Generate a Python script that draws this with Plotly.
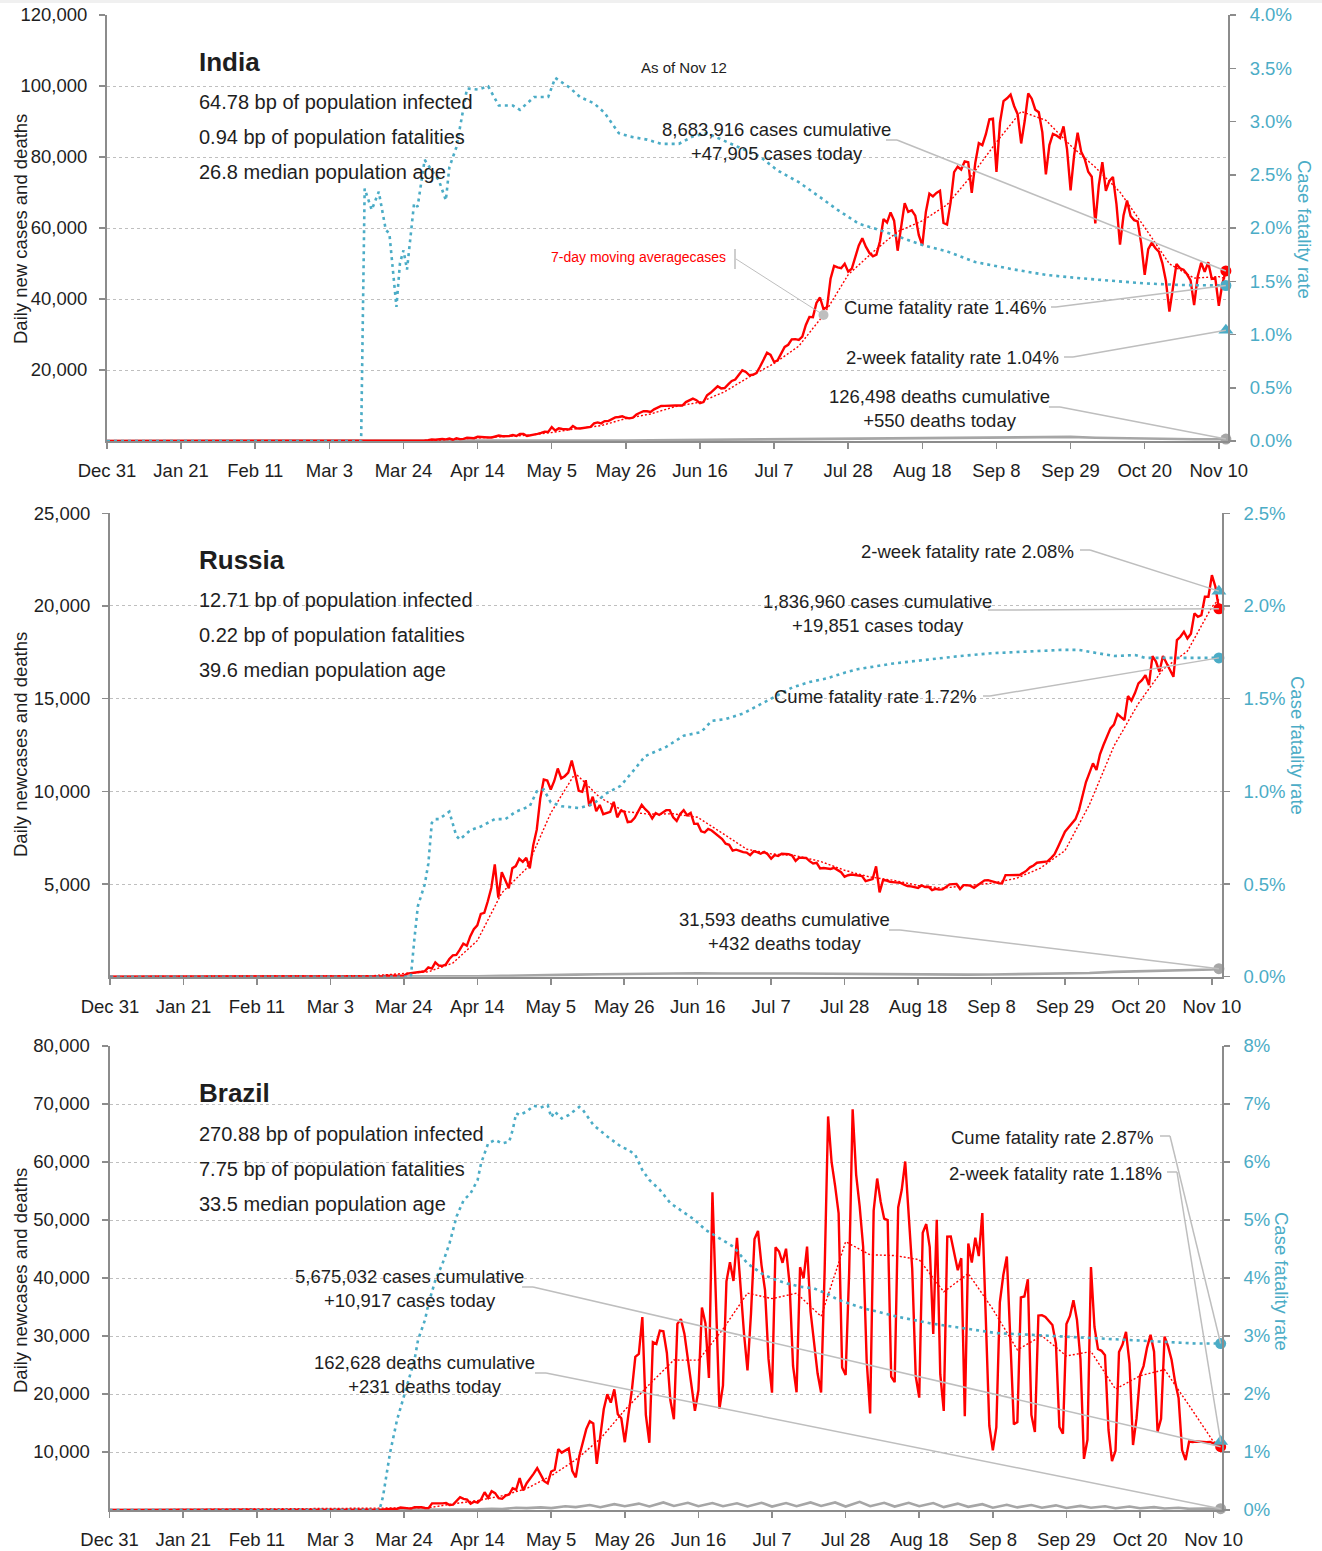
import pandas as pd
import plotly.graph_objects as go

# ============================ DATA ============================
base_date = pd.Timestamp("2019-12-31")
daily_start = pd.Timestamp("2020-03-01")
lead_value = 0

tick_dates = ["2019-12-31", "2020-01-21", "2020-02-11", "2020-03-03", "2020-03-24",
              "2020-04-14", "2020-05-05", "2020-05-26", "2020-06-16", "2020-07-07",
              "2020-07-28", "2020-08-18", "2020-09-08", "2020-09-29", "2020-10-20",
              "2020-11-10"]
tick_labels = ["Dec 31", "Jan 21", "Feb 11", "Mar 3", "Mar 24", "Apr 14", "May 5",
               "May 26", "Jun 16", "Jul 7", "Jul 28", "Aug 18", "Sep 8", "Sep 29",
               "Oct 20", "Nov 10"]

# ---- India ----
india_cases = [
    # Mar
    0, 0, 1, 22, 2, 1, 3, 5, 9, 15, 6, 11, 9, 20, 11, 16, 23, 22, 26, 58, 83, 69, 103, 37, 121, 70, 160, 100, 67, 146, 227,
    # Apr
    437, 336, 525, 601, 472, 693, 354, 773, 540, 591, 896, 909, 796, 1211, 1076, 941, 1007, 991, 1334, 1553, 1336, 1383, 1409, 1684, 1429, 1990, 1975, 1396, 1543, 1718,
    # May
    1993, 2293, 2644, 2553, 3900, 2958, 3561, 3390, 3320, 3277, 4213, 3604, 3525, 3722, 3967, 3970, 4987, 5242, 4970, 5611, 5609, 6088, 6654, 6767, 6977, 6535, 6387, 6566, 7466, 7964, 8380,
    # Jun
    8392, 8171, 8909, 9304, 9851, 9887, 9971, 9983, 9987, 9985, 9996, 10956, 11458, 11929, 11502, 10667, 10974, 12881, 13586, 14516, 15413, 14821, 14933, 15968, 16922, 17296, 18552, 19906, 19459, 18522,
    # Jul
    18653, 19148, 20903, 22771, 24850, 24248, 22252, 22752, 24879, 26506, 27114, 28637, 28701, 28498, 29429, 32695, 34956, 34884, 38902, 40425, 37148, 37724, 45720, 49310, 48916, 48661, 49931, 47704, 48513, 52123, 55079,
    # Aug
    57118, 54735, 52972, 52050, 52509, 56282, 62538, 61537, 64399, 62064, 53601, 60963, 66999, 64553, 65002, 63490, 57981, 55079, 64531, 69652, 68898, 69878, 70488, 61408, 60975, 67151, 75760, 77266, 76472, 78761, 78512,
    # Sep
    69921, 78357, 83883, 83341, 86432, 90632, 90802, 75809, 89706, 95735, 96551, 97570, 94372, 92071, 83809, 90123, 97894, 96424, 93337, 92605, 86961, 75083, 83347, 86508, 86052, 85362, 88600, 82170, 70589, 80472,
    # Oct
    86821, 81484, 79476, 75829, 74442, 61267, 72049, 78524, 70496, 73272, 74383, 66732, 55342, 63509, 67708, 63371, 62212, 61871, 55722, 46790, 54044, 55839, 54366, 53370, 50129, 45148, 36469, 43893, 49881, 48648, 48268,
    # Nov
    46963, 45231, 38310, 46253, 50209, 47638, 50357, 45674, 45903, 38074, 44281, 47905,
]
india_ma_days = [0, 75, 91, 98, 105, 112, 119, 126, 133, 140, 147, 154, 161, 168, 175, 182, 189, 196,
                 203, 210, 217, 224, 231, 238, 245, 252, 259, 266, 273, 280, 287, 294, 301, 308, 315, 317]
india_ma = [0, 10, 90, 488, 817, 1177, 1609, 2378, 3482, 4340, 6320, 7618, 9699, 10928, 13875, 18089,
            21832, 26727, 35491, 46852, 53227, 58990, 62010, 66547, 74835, 84179, 92831, 90347, 83233,
            77113, 70114, 60169, 49909, 45885, 46301, 45690]
india_death_days = india_ma_days
india_deaths = [0, 0, 10, 20, 30, 45, 55, 100, 90, 130, 150, 220, 280, 380, 420, 420, 470, 550, 650, 700,
                800, 900, 1000, 950, 1050, 1100, 1150, 1100, 1150, 900, 750, 600, 500, 500, 500, 550]
india_cfr_days = [0, 72, 73, 75, 77, 79, 80, 82, 83, 84, 85, 87, 88, 90, 92, 94, 96, 97, 99, 101,
                  102, 105, 108, 111, 115, 117, 121, 125, 127, 131, 134, 138, 141, 145, 148, 153, 157, 162, 166, 170,
                  174, 179, 185, 190, 196, 202, 207, 213, 219, 225, 231, 238, 246, 257, 266, 275, 285, 294, 304, 317]
india_cfr = [0, 0, 2.37, 2.17, 2.34, 1.98, 1.95, 1.26, 1.67, 1.79, 1.61, 2.23, 2.20, 2.64, 2.54, 2.45, 2.26, 2.57, 2.76, 3.11,
             3.31, 3.30, 3.33, 3.15, 3.15, 3.11, 3.23, 3.23, 3.41, 3.32, 3.23, 3.17, 3.08, 2.89, 2.86, 2.83, 2.79, 2.79, 2.86, 2.89,
             2.83, 2.76, 2.67, 2.54, 2.43, 2.29, 2.17, 2.04, 1.98, 1.91, 1.84, 1.78, 1.68, 1.61, 1.56, 1.53, 1.50, 1.48, 1.465, 1.46]
india_cfr_2wk = 1.04
india_cum_cases, india_today_cases = 8683916, 47905
india_cum_deaths, india_today_deaths = 126498, 550
india_stats = ["64.78 bp of population infected", "0.94 bp of population fatalities", "26.8 median population age"]
india_left_ticks = [20000, 40000, 60000, 80000, 100000, 120000]
india_right_ticks = [0, 0.5, 1.0, 1.5, 2.0, 2.5, 3.0, 3.5, 4.0]
india_ma_label_day = 203

# ---- Russia ----
russia_cases = [
    # Mar
    0, 0, 1, 0, 1, 0, 4, 3, 2, 0, 8, 6, 14, 11, 18, 30, 21, 33, 52, 54, 53, 61, 71, 57, 163, 182, 196, 228, 270, 302, 500,
    # Apr
    440, 771, 601, 582, 658, 954, 1154, 1175, 1459, 1786, 1667, 2186, 2558, 2774, 3388, 3448, 4070, 4785, 6060, 4268, 5642, 5236, 4774, 5849, 5966, 6361, 6198, 6411, 5841, 7099,
    # May
    7933, 9623, 10633, 10581, 10102, 10559, 11231, 10699, 10817, 11012, 11656, 10899, 10028, 9974, 10598, 9200, 9709, 8926, 9263, 8764, 8849, 8894, 9434, 8599, 8946, 8915, 8338, 8371, 8572, 8952, 9268,
    # Jun
    9035, 8863, 8536, 8831, 8726, 8855, 8984, 8985, 8595, 8404, 8779, 8987, 8706, 8835, 8246, 8248, 7843, 7790, 7972, 7889, 7728, 7600, 7425, 7176, 7113, 6800, 6852, 6791, 6719, 6693,
    # Jul
    6556, 6760, 6718, 6632, 6736, 6611, 6368, 6562, 6509, 6635, 6611, 6615, 6537, 6248, 6422, 6428, 6406, 6234, 6109, 6139, 5842, 5862, 5848, 5811, 5871, 5765, 5635, 5395, 5475, 5509, 5482,
    # Aug
    5462, 5427, 5159, 5204, 5267, 5950, 4550, 5212, 5189, 5118, 5102, 5065, 5061, 4969, 4892, 4870, 4828, 4785, 4921, 4838, 4852, 4676, 4744, 4696, 4711, 4829, 4980, 4993, 5004, 4729, 4941,
    # Sep
    4940, 4900, 4800, 4950, 5100, 5200, 5210, 5150, 5100, 5050, 5030, 5480, 5480, 5470, 5480, 5490, 5600, 5720, 5900, 6000, 6150, 6170, 6190, 6220, 6400, 6600, 7000, 7400, 7820, 8050,
    # Oct
    8270, 8500, 8990, 9700, 10500, 11000, 11510, 11150, 12000, 12500, 12950, 13400, 13600, 14170, 14000, 13850, 15140, 14890, 15300, 15820, 16000, 16270, 15730, 17300, 17000, 16450, 17300, 16900, 16500, 16180, 18160,
    # Nov
    18340, 18610, 18250, 18500, 19600, 19420, 19500, 20500, 20500, 21660, 21040, 19851,
]
russia_ma_days = india_ma_days
russia_ma = [0, 54, 263, 737, 1944, 4523, 5828, 8830, 10982, 9671, 8914, 8771, 8787, 8601, 7750, 6878, 6626,
             6531, 6226, 5741, 5388, 5198, 4924, 4777, 4917, 5044, 5299, 5861, 6804, 9287, 12444, 14739,
             16579, 17563, 19954, 20353]
russia_death_days = india_ma_days
russia_deaths = [0, 0, 2, 10, 25, 45, 80, 100, 110, 130, 150, 180, 170, 190, 170, 150, 170, 170, 160, 140,
                 120, 120, 115, 110, 110, 120, 130, 150, 170, 200, 260, 290, 320, 360, 390, 432]
russia_cfr_days = [0, 86, 87, 88, 90, 91, 92, 93, 94, 97, 99, 100, 103, 106, 110, 113, 116, 120, 122, 124,
                   126, 129, 134, 138, 142, 146, 150, 153, 159, 164, 169, 172, 176, 181, 186, 191, 195, 200, 205, 210,
                   214, 224, 233, 243, 252, 262, 272, 277, 281, 287, 293, 296, 305, 317]
russia_cfr = [0, 0, 0.20, 0.38, 0.50, 0.61, 0.83, 0.85, 0.85, 0.89, 0.76, 0.74, 0.79, 0.81, 0.85, 0.85, 0.89, 0.92, 1.00, 1.01,
              0.94, 0.92, 0.91, 0.93, 0.99, 1.03, 1.12, 1.19, 1.24, 1.30, 1.32, 1.38, 1.39, 1.42, 1.47, 1.52, 1.56, 1.59, 1.61, 1.64,
              1.66, 1.69, 1.71, 1.73, 1.745, 1.754, 1.763, 1.763, 1.75, 1.73, 1.735, 1.72, 1.72, 1.72]
russia_cfr_2wk = 2.08
russia_cum_cases, russia_today_cases = 1836960, 19851
russia_cum_deaths, russia_today_deaths = 31593, 432
russia_stats = ["12.71 bp of population infected", "0.22 bp of population fatalities", "39.6 median population age"]
russia_left_ticks = [5000, 10000, 15000, 20000, 25000]
russia_right_ticks = [0, 0.5, 1.0, 1.5, 2.0, 2.5]

# ---- Brazil ----
brazil_cases = [
    # Mar
    0, 1, 0, 0, 1, 4, 6, 6, 5, 5, 9, 0, 25, 21, 77, 79, 34, 57, 137, 193, 283, 224, 418, 345, 310, 232, 482, 502, 487, 352, 323,
    # Apr
    1138, 1119, 1074, 1146, 1222, 852, 926, 1661, 2210, 1930, 1781, 1089, 1442, 1261, 1832, 3058, 2105, 3257, 2917, 2055, 1927, 2498, 2678, 3735, 3503, 5514, 3379, 4613, 5385, 6276,
    # May
    7218, 6209, 4970, 4588, 6633, 6935, 10503, 9888, 10222, 10611, 6760, 5632, 9258, 11385, 13944, 15305, 14919, 7938, 13140, 17408, 19951, 18508, 20803, 16508, 15813, 11687, 16324, 20599, 26417, 26928, 33274,
    # Jun
    16409, 11598, 28936, 28633, 30925, 30830, 27075, 18912, 15654, 32091, 32913, 30412, 25982, 21704, 17110, 20647, 34918, 32188, 22765, 54771, 34666, 17459, 21432, 39436, 42725, 39483, 46907, 38693, 30476, 24052,
    # Jul
    33846, 46712, 48105, 42223, 37923, 26051, 20229, 45305, 44571, 42619, 45048, 39023, 24831, 20286, 41857, 39924, 45403, 34177, 28532, 23529, 20257, 41008, 67860, 59961, 55891, 51147, 24578, 23284, 40816, 69074, 57837,
    # Aug
    52383, 45392, 25800, 16641, 51603, 57152, 53139, 50230, 49970, 23010, 22048, 52160, 55155, 60091, 50644, 41576, 23101, 19373, 47784, 49298, 45323, 30355, 50032, 23421, 17078, 47134, 47161, 44235, 41350, 43412, 16158,
    # Sep
    45961, 42659, 46934, 43773, 51194, 33000, 14521, 10273, 14279, 35816, 40557, 43718, 29000, 14768, 15155, 36653, 36820, 39797, 16389, 13439, 33536, 33600, 33300, 32500, 31900, 28700, 14318, 13155, 32058, 33461,
    # Oct
    36157, 32800, 26012, 8820, 12100, 41906, 31553, 27750, 27444, 26700, 13800, 8429, 10220, 27235, 28523, 30700, 25300, 11200, 15783, 23227, 24818, 28000, 30200, 27300, 13493, 15726, 29900, 28200, 25900, 22100, 19300,
    # Nov
    10300, 8600, 11800, 11700, 11800, 11750, 11800, 11700, 11750, 11500, 11300, 10917,
]
brazil_ma_days = india_ma_days
brazil_ma = [0, 237, 384, 1068, 1625, 2450, 3703, 5897, 8650, 12270, 17240, 21650, 25852, 25837, 31171,
             37396, 36441, 37383, 33383, 46247, 43992, 43879, 43157, 37613, 40773, 34622, 27613, 30033,
             26562, 27322, 20842, 23138, 24205, 18029, 11721, 11538]
brazil_death_days = [0, 80, 90, 95, 98, 102, 105, 109, 112, 116, 119, 123, 126, 130, 133, 137, 140, 144, 147, 151,
                     154, 158, 161, 165, 168, 172, 175, 179, 182, 186, 189, 193, 196, 200, 203, 207, 210, 214, 217, 221,
                     224, 228, 231, 235, 238, 242, 245, 249, 252, 256, 259, 263, 266, 270, 273, 277, 280, 284, 287, 291,
                     294, 298, 301, 305, 308, 312, 317]
brazil_deaths = [0, 1, 40, 70, 100, 130, 110, 200, 150, 400, 330, 450, 330, 650, 500, 850, 480, 1000, 650, 1100,
                 600, 1300, 700, 1250, 650, 1200, 650, 1150, 600, 1250, 600, 1200, 650, 1300, 700, 1300, 600, 1400, 650, 1250,
                 600, 1250, 650, 1200, 500, 1100, 550, 1000, 400, 900, 450, 850, 400, 800, 350, 700, 400, 650, 300, 600,
                 300, 500, 250, 400, 200, 250, 231]
brazil_cfr_days = [0, 77, 78, 80, 82, 85, 87, 88, 90, 91, 93, 95, 97, 99, 101, 103, 105, 106, 107, 108,
                   110, 112, 114, 115, 116, 117, 119, 121, 123, 125, 126, 127, 129, 131, 134, 135, 138, 142, 146, 148,
                   150, 152, 154, 157, 160, 163, 167, 170, 174, 178, 182, 186, 189, 193, 197, 201, 205, 208, 215, 225,
                   234, 244, 253, 263, 272, 282, 291, 301, 310, 317]
brazil_cfr = [0, 0, 0.23, 0.98, 1.55, 2.18, 2.59, 2.93, 3.28, 3.56, 3.97, 4.25, 4.60, 5.06, 5.34, 5.46, 5.69, 5.98, 6.15, 6.32,
              6.38, 6.32, 6.35, 6.55, 6.84, 6.81, 6.87, 6.97, 6.94, 6.98, 6.77, 6.87, 6.75, 6.81, 6.95, 6.90, 6.64, 6.44, 6.26, 6.21,
              6.12, 5.86, 5.69, 5.52, 5.29, 5.17, 5.00, 4.83, 4.68, 4.54, 4.25, 4.08, 3.99, 3.91, 3.85, 3.82, 3.72, 3.62, 3.48, 3.33,
              3.22, 3.13, 3.05, 3.02, 2.99, 2.96, 2.93, 2.90, 2.87, 2.87]
brazil_cfr_2wk = 1.18
brazil_cum_cases, brazil_today_cases = 5675032, 10917
brazil_cum_deaths, brazil_today_deaths = 162628, 231
brazil_stats = ["270.88 bp of population infected", "7.75 bp of population fatalities", "33.5 median population age"]
brazil_left_ticks = [10000, 20000, 30000, 40000, 50000, 60000, 70000, 80000]
brazil_right_ticks = [0, 1, 2, 3, 4, 5, 6, 7, 8]

# ============================ STYLE / LAYOUT ============================
W, H, OFF = 1322, 1551, 0
FONT = "Liberation Sans Narrow, Arial Narrow, Liberation Sans, Arial, sans-serif"
RED, CYAN, GRAY = "#FF0000", "#4BACC6", "#A6A6A6"
AXIS, GRID, LEAD, TXT = "#8C8C8C", "#BFBFBF", "#BEBEBE", "#1E1E1E"
S_TICK, S_STAT, S_TITLE, S_NOTE, S_AXT = 18.5, 20, 26, 18.5, 18.5


def fx(p):
    return (p - OFF) / W


def fy(p):
    return 1 - (p - OFF) / H


def day(d):
    return base_date + pd.Timedelta(days=d)


countries = [
    dict(name="India", cases=india_cases, ma_days=india_ma_days, ma=india_ma,
         death_days=india_death_days, deaths=india_deaths, cfr_days=india_cfr_days, cfr=india_cfr,
         cfr2=india_cfr_2wk, cum_c=india_cum_cases, tod_c=india_today_cases,
         cum_d=india_cum_deaths, tod_d=india_today_deaths, stats=india_stats,
         lt=india_left_ticks, rt=india_right_ticks, rfmt="{:.1f}%", lmax=120000, rmax=4,
         ytitle="Daily new cases and deaths",
         fr=dict(left=107, right=1228, top=15, bottom=441, end=317.6),
         title_y=62, stats_y=[102, 137, 172], ltitle_y=229, rtitle_x=1305,
         cases_txt=(776, 142), deaths_txt=(940, 409),
         cume_txt=(1049, 307), wk_txt=(1061, 357),
         cases_lead=(886, 897, 140), deaths_lead=(1049, 1060, 407),
         cume_lead=(1051, 1056, 307), wk_lead=(1064, 1073, 357)),
    dict(name="Russia", cases=russia_cases, ma_days=russia_ma_days, ma=russia_ma,
         death_days=russia_death_days, deaths=russia_deaths, cfr_days=russia_cfr_days, cfr=russia_cfr,
         cfr2=russia_cfr_2wk, cum_c=russia_cum_cases, tod_c=russia_today_cases,
         cum_d=russia_cum_deaths, tod_d=russia_today_deaths, stats=russia_stats,
         lt=russia_left_ticks, rt=russia_right_ticks, rfmt="{:.1f}%", lmax=25000, rmax=2.5,
         ytitle="Daily newcases and deaths",
         fr=dict(left=110, right=1221.7, top=513.3, bottom=976.7, end=317.8),
         title_y=560, stats_y=[600, 635, 670], ltitle_y=745, rtitle_x=1298,
         cases_txt=(877, 613), deaths_txt=(784, 931),
         cume_txt=(979, 696), wk_txt=(1076, 551),
         cases_lead=(988, 998, 610), deaths_lead=(889, 900, 930),
         cume_lead=(983, 990, 696), wk_lead=(1080, 1090, 550)),
    dict(name="Brazil", cases=brazil_cases, ma_days=brazil_ma_days, ma=brazil_ma,
         death_days=brazil_death_days, deaths=brazil_deaths, cfr_days=brazil_cfr_days, cfr=brazil_cfr,
         cfr2=brazil_cfr_2wk, cum_c=brazil_cum_cases, tod_c=brazil_today_cases,
         cum_d=brazil_cum_deaths, tod_d=brazil_today_deaths, stats=brazil_stats,
         lt=brazil_left_ticks, rt=brazil_right_ticks, rfmt="{:.0f}%", lmax=80000, rmax=8,
         ytitle="Daily newcases and deaths",
         fr=dict(left=109.6, right=1221.7, top=1046, bottom=1510, end=317.3),
         title_y=1093, stats_y=[1134, 1169, 1204], ltitle_y=1281, rtitle_x=1282,
         cases_txt=(409, 1288), deaths_txt=(425, 1374),
         cume_txt=(1156, 1137), wk_txt=(1164, 1173),
         cases_lead=(522, 533, 1287), deaths_lead=(535, 546, 1373),
         cume_lead=(1160, 1170, 1136), wk_lead=(1167, 1177, 1172)),
]

fig = go.Figure()
layout = dict(width=W, height=H, margin=dict(l=0, r=0, t=0, b=0, autoexpand=False), autosize=False,
              paper_bgcolor="white", plot_bgcolor="white", showlegend=False, hovermode=False,
              font=dict(family=FONT, color=TXT))
annotations = []
shapes = [dict(type="rect", xref="paper", yref="paper", x0=0, x1=1, y0=fy(3), y1=1,
               fillcolor="#F0F0F0", line=dict(width=0), layer="below")]


def ann(text, xp, yp, size, xanchor="left", yanchor="middle", color=TXT, angle=0, bold=False):
    annotations.append(dict(text=("<b>%s</b>" % text) if bold else text, x=fx(xp), y=fy(yp),
                            xref="paper", yref="paper", xanchor=xanchor, yanchor=yanchor,
                            showarrow=False, textangle=angle, align="center",
                            font=dict(family=FONT, size=size, color=color)))


def stub(x0, x1, y):
    shapes.append(dict(type="line", xref="paper", yref="paper", x0=fx(x0), x1=fx(x1),
                       y0=fy(y), y1=fy(y), line=dict(color=LEAD, width=1.5)))


for i, c in enumerate(countries):
    fr = c["fr"]
    xr = "x" if i == 0 else "x%d" % (i + 1)
    yl = "y" if i == 0 else "y%d" % (2 * i + 1)
    yr = "y%d" % (2 * i + 2)
    xk = "xaxis" if i == 0 else "xaxis%d" % (i + 1)
    ylk = "yaxis" if i == 0 else "yaxis%d" % (2 * i + 1)
    yrk = "yaxis%d" % (2 * i + 2)

    layout[xk] = dict(domain=[fx(fr["left"]), fx(fr["right"])], anchor=yl, type="date",
                      range=[base_date, day(fr["end"])], tickvals=tick_dates, ticktext=tick_labels,
                      ticks="outside", ticklen=6, tickwidth=1.5, tickcolor=AXIS, showline=True,
                      linecolor=AXIS, linewidth=2, showgrid=False, zeroline=False, automargin=False,
                      ticklabeloverflow="allow",
                      tickfont=dict(family=FONT, size=S_TICK, color=TXT), ticklabelstandoff=6)
    layout[ylk] = dict(domain=[fy(fr["bottom"]), fy(fr["top"])], anchor=xr, range=[0, c["lmax"]],
                       tickvals=c["lt"], tickformat=",d", ticks="outside", ticklen=6, tickwidth=1.5,
                       tickcolor=AXIS, showline=True, linecolor=AXIS, linewidth=2, showgrid=True,
                       gridcolor=GRID, griddash="dot", gridwidth=1, zeroline=False, automargin=False,
                       ticklabeloverflow="allow",
                       tickfont=dict(family=FONT, size=S_TICK, color=TXT), ticklabelstandoff=8)
    layout[yrk] = dict(overlaying=yl, side="right", anchor=xr, range=[0, c["rmax"]],
                       tickvals=c["rt"], ticktext=[c["rfmt"].format(v) for v in c["rt"]],
                       ticks="outside", ticklen=6, tickwidth=1.5, tickcolor=AXIS, showline=True,
                       linecolor=AXIS, linewidth=2, showgrid=False, zeroline=False, automargin=False,
                       ticklabeloverflow="allow",
                       tickfont=dict(family=FONT, size=S_TICK, color=CYAN), ticklabelstandoff=10)

    dates = [base_date] + list(pd.date_range(daily_start, periods=len(c["cases"])))
    last = dates[-1]

    fig.add_trace(go.Scatter(x=[day(d) for d in c["cfr_days"]], y=c["cfr"], xaxis=xr, yaxis=yr,
                             mode="lines", line=dict(color=CYAN, width=2.6, dash="3px,4px"),
                             hoverinfo="skip"))
    fig.add_trace(go.Scatter(x=[day(d) for d in c["death_days"]], y=c["deaths"], xaxis=xr, yaxis=yl,
                             mode="lines", line=dict(color=GRAY, width=2.6), hoverinfo="skip"))
    fig.add_trace(go.Scatter(x=[day(d) for d in c["ma_days"]], y=c["ma"], xaxis=xr, yaxis=yl,
                             mode="lines", line=dict(color=RED, width=1.4, dash="2px,2px"),
                             hoverinfo="skip"))
    fig.add_trace(go.Scatter(x=dates, y=[lead_value] + c["cases"], xaxis=xr, yaxis=yl,
                             mode="lines", line=dict(color=RED, width=2.4), hoverinfo="skip"))
    fig.add_trace(go.Scatter(x=[last], y=[c["cases"][-1]], xaxis=xr, yaxis=yl, mode="markers",
                             marker=dict(color=RED, size=11), cliponaxis=False))
    fig.add_trace(go.Scatter(x=[day(c["death_days"][-1])], y=[c["deaths"][-1]], xaxis=xr, yaxis=yl,
                             mode="markers", marker=dict(color=GRAY, size=11), cliponaxis=False))
    fig.add_trace(go.Scatter(x=[day(c["cfr_days"][-1])], y=[c["cfr"][-1]], xaxis=xr, yaxis=yr,
                             mode="markers", marker=dict(color=CYAN, size=11), cliponaxis=False))
    fig.add_trace(go.Scatter(x=[last], y=[c["cfr2"]], xaxis=xr, yaxis=yr, mode="markers",
                             marker=dict(color=CYAN, size=13, symbol="triangle-up"), cliponaxis=False))

    ann(c["name"], 197, c["title_y"], S_TITLE, bold=True)
    for s, yy in zip(c["stats"], c["stats_y"]):
        ann(s, 197, yy, S_STAT)
    ann(c["ytitle"], 20, c["ltitle_y"], S_AXT, xanchor="center", angle=-90)
    ann("Case fatality rate", c["rtitle_x"], c["ltitle_y"], S_AXT, xanchor="center", color=CYAN, angle=90)
    ann("{:,} cases cumulative<br>+{:,} cases today".format(c["cum_c"], c["tod_c"]),
        c["cases_txt"][0], c["cases_txt"][1], S_NOTE, xanchor="center")
    ann("{:,} deaths cumulative<br>+{:,} deaths today".format(c["cum_d"], c["tod_d"]),
        c["deaths_txt"][0], c["deaths_txt"][1], S_NOTE, xanchor="center")
    ann("Cume fatality rate {:.2f}%".format(c["cfr"][-1]), c["cume_txt"][0], c["cume_txt"][1], S_NOTE,
        xanchor="right")
    ann("2-week fatality rate {:.2f}%".format(c["cfr2"]), c["wk_txt"][0], c["wk_txt"][1], S_NOTE,
        xanchor="right")

    def to_data(xp, yp, ymax):
        d = (xp - fr["left"]) / (fr["right"] - fr["left"]) * fr["end"]
        v = (fr["bottom"] - yp) / (fr["bottom"] - fr["top"]) * ymax
        return day(d), v

    def leader(spec, yref, ymax, tx, ty):
        x0, x1, yy = spec
        stub(x0, x1, yy)
        sx, sy = to_data(x1, yy, ymax)
        shapes.append(dict(type="line", xref=xr, yref=yref, x0=sx, y0=sy, x1=tx, y1=ty,
                           line=dict(color=LEAD, width=1.5)))

    leader(c["cases_lead"], yl, c["lmax"], last, c["cases"][-1])
    leader(c["deaths_lead"], yl, c["lmax"], day(c["death_days"][-1]), c["deaths"][-1])
    leader(c["cume_lead"], yr, c["rmax"], day(c["cfr_days"][-1]), c["cfr"][-1])
    leader(c["wk_lead"], yr, c["rmax"], last, c["cfr2"])

    if i == 0:
        ann("As of Nov 12", 684, 67, 15, xanchor="center")
        ann("7-day moving averagecases", 728, 257, 14, xanchor="right", color=RED)
        shapes.append(dict(type="line", xref="paper", yref="paper", x0=fx(735), x1=fx(735),
                           y0=fy(249), y1=fy(269), line=dict(color=LEAD, width=1.5)))
        ma_val = c["ma"][c["ma_days"].index(india_ma_label_day)]
        sx, sy = to_data(736, 259, c["lmax"])
        shapes.append(dict(type="line", xref=xr, yref=yl, x0=sx, y0=sy,
                           x1=day(india_ma_label_day), y1=ma_val, line=dict(color=LEAD, width=1)))
        fig.add_trace(go.Scatter(x=[day(india_ma_label_day)], y=[ma_val], xaxis=xr, yaxis=yl,
                                 mode="markers", marker=dict(color="#BFBFBF", size=10)))

layout["annotations"] = annotations
layout["shapes"] = shapes
fig.update_layout(**layout)
fig.write_html("out.html", config={"displayModeBar": False, "staticPlot": True},
               post_script="document.documentElement.style.margin='0';"
                           "document.body.style.margin='0';document.body.style.overflow='hidden';")
